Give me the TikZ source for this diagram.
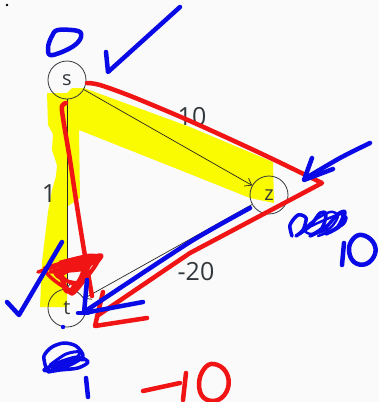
\documentclass[tikz,border=0pt]{standalone}
\usepackage{fontspec}
\setmainfont{Open Sans}
\usetikzlibrary{arrows.meta}
\definecolor{bg}{RGB}{250,250,250}
\definecolor{ink}{RGB}{50,55,60}
\definecolor{hl}{RGB}{250,250,0}
\definecolor{penred}{RGB}{240,20,20}
\definecolor{penblue}{RGB}{10,10,230}
\tikzset{
 vertex/.style={circle, draw=ink, line width=0.8pt, minimum size=38pt, inner sep=0pt, text=ink, font=\fontsize{20}{24}\selectfont},
 weight/.style={text=ink, inner sep=0pt, font=\fontsize{25}{30}\selectfont},
 edge/.style={draw=black!85, line width=0.7pt, -{Straight Barb[length=6pt,width=9pt]}},
 redpen/.style={draw=penred, line width=4.5pt, line cap=round, line join=round},
 bluepen/.style={draw=penblue, line width=4.5pt, line cap=round, line join=round},
}
\begin{document}
\begin{tikzpicture}[x=1pt,y=-1pt]
\fill[bg] (0,0) rectangle (379,402);
\useasboundingbox (0,0) rectangle (379,402);
% highlighter
\fill[hl] (47,93) -- (67,93) -- (72,88) -- (84,88) -- (190,127) -- (273,162) -- (274,203)
  -- (250,198) -- (190,174) -- (79,130) -- (80,198) -- (68,206) -- (67,307) -- (40,307)
  -- (42,262) -- (48,212) -- (52,190) -- (56,176) -- (57,165) -- (52,150) -- (53,134)
  -- (48,125) -- cycle;
% graph
\node[vertex] (s) at (67,80) {s};
\node[vertex] (z) at (269,195) {z};
\node[vertex] (t) at (67,308) {t};
\draw[edge] (s) -- (z);
\draw[edge] (s) -- (t);
\draw[edge] (z) -- (t);
\node[weight] (w1) at (192,117) {10};
\node[weight] (w2) at (49,194) {1};
\node[weight] (w3) at (196,272) {-20};
\fill[black] (7,5) circle (1.3);
% red pen
\draw[redpen] plot[smooth, tension=0.5] coordinates {(87,83) (100,85) (133,97) (190,121) (260,153) (322,183)}
  -- (290,200) -- (190,253) -- (97,316);
\draw[redpen] (103,292) -- (95,326) -- (147,318);
\draw[redpen] plot[smooth, tension=0.6] coordinates {(66,103) (62,106) (63,118) (70,160) (76,200) (84,250) (92,296)};
\draw[redpen, line width=3.5pt] plot[smooth, tension=0.4] coordinates {(38,272) (70,262) (101,255) (96,264) (72,294) (60,268) (90,260) (72,290) (46,270) (98,258) (82,282) (64,280) (56,272) (98,262)};
\draw[redpen, line width=3pt] plot[smooth, tension=0.4] coordinates {(44,268) (85,258) (75,285) (55,266) (95,256) (68,292) (62,275) (88,264) (80,270) (50,272) (70,266) (100,258) (90,255) (60,262)};
\draw[redpen] (143,391) -- (180,383);
\draw[redpen] (186,373) -- (183,400);
\draw[redpen] plot[smooth cycle, tension=0.7] coordinates {(214,364) (226,372) (228,388) (218,400) (204,398) (199,384) (204,369)};
% blue pen
\draw[bluepen] plot[smooth cycle, tension=0.6] coordinates {(58,30) (78,31) (81,37) (75,45) (62,52) (50,55) (48,47) (52,36)};
\draw[bluepen] (106,52) -- (108,72) -- (180,7);
\draw[bluepen] plot[smooth, tension=0.5] coordinates {(370,143) (340,158) (306,178)};
\draw[bluepen] (312,158) -- (304,180) -- (333,169);
\draw[bluepen, line width=3.5pt] plot[smooth, tension=0.5] coordinates {(292,236) (290,225) (298,215) (306,218) (303,230) (296,236) (310,226) (320,213) (326,214) (322,228) (310,236) (325,228) (338,214) (345,212) (340,226) (326,234) (343,224) (346,217)};
\draw[bluepen, line width=2.5pt] plot[smooth, tension=0.5] coordinates {(300,234) (312,222) (330,212) (338,216) (330,228) (312,234) (305,230) (320,222) (342,214) (336,228) (318,236)};
\draw[bluepen] (344,243) -- (342,265);
\draw[bluepen] plot[smooth cycle, tension=0.7] coordinates {(362,235) (373,242) (375,254) (366,264) (354,262) (349,250) (353,239)};
\draw[bluepen] plot[smooth, tension=0.4] coordinates {(250,208) (190,242) (87,310)};
\draw[bluepen] (87,280) -- (84,313) -- (143,302);
\draw[bluepen] (78,313) -- (88,313);
\draw[bluepen] (7,302) -- (19,315) -- (62,242);
\draw[bluepen, line width=3.5pt] plot[smooth, tension=0.5] coordinates {(46,368) (44,356) (52,347) (64,343) (76,346) (83,356) (72,364) (55,370) (44,370) (60,362) (78,357) (88,362) (78,368) (60,370) (48,372)};
\draw[bluepen, line width=3pt] plot[smooth, tension=0.5] coordinates {(50,365) (66,354) (80,352) (72,362) (52,368) (70,360) (84,360)};
\draw[bluepen] (86,378) -- (88,397);
\fill[penblue] (63,327) circle (2.2);
\end{tikzpicture}
\end{document}
